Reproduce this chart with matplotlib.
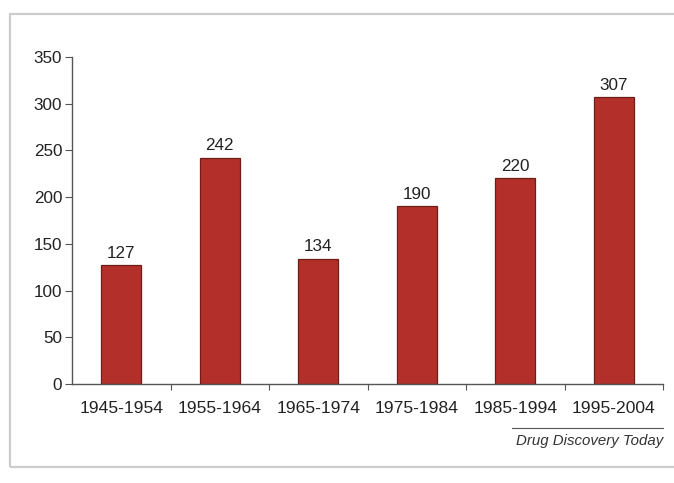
import matplotlib
matplotlib.use('Agg')
import matplotlib.pyplot as plt
from matplotlib.patches import Rectangle
from matplotlib.lines import Line2D

# data
periods = ['1945-1954', '1955-1964', '1965-1974', '1975-1984', '1985-1994', '1995-2004']
counts = [127, 242, 134, 190, 220, 307]
y_ticks = [0, 50, 100, 150, 200, 250, 300, 350]
source_note = 'Drug Discovery Today'

plt.rcParams['font.family'] = ['Liberation Sans', 'DejaVu Sans']

fig = plt.figure(figsize=(6.74, 4.83), dpi=100)
fig.patch.set_facecolor('white')

# light grey frame round the figure
fig.patches.append(Rectangle((10 / 674, 1 - 467 / 483), 1.0, (467 - 14) / 483,
                             transform=fig.transFigure, fill=False,
                             edgecolor='#cccccc', linewidth=1.6))

ax = fig.add_axes([72 / 674, 1 - 384 / 483, (663 - 72) / 674, (384 - 57) / 483])

x = list(range(len(periods)))
bars = ax.bar(x, counts, width=0.405, color='#b3302a', edgecolor='#6e1c16', linewidth=0.9)

for xi, v in zip(x, counts):
    ax.text(xi, v + 5, str(v), ha='center', va='bottom', fontsize=12.3, color='#222222')

ax.set_xlim(-0.5, 5.5)
ax.set_ylim(0, 350)

ax.set_yticks(y_ticks)
ax.set_yticklabels([str(t) for t in y_ticks], fontsize=12.3, color='#222222')

# major ticks between the bars, labels on the bar centres
ax.set_xticks([i + 0.5 for i in range(len(periods))])
ax.set_xticklabels([])
ax.set_xticks(x, minor=True)
ax.set_xticklabels(periods, minor=True, fontsize=12.6, color='#222222')
ax.tick_params(axis='x', which='minor', length=0, pad=12)
ax.tick_params(axis='x', which='major', length=4, direction='out', color='#555555')
ax.tick_params(axis='y', length=5, direction='out', color='#555555', pad=2)

for side in ['top', 'right']:
    ax.spines[side].set_visible(False)
for side in ['left', 'bottom']:
    ax.spines[side].set_color('#555555')
    ax.spines[side].set_linewidth(1.0)

# source note with rule above it
fig.lines.append(Line2D([512 / 674, 663 / 674], [1 - 428 / 483, 1 - 428 / 483],
                        transform=fig.transFigure, color='#555555', linewidth=0.8))
fig.text(663 / 674, 1 - 441 / 483, source_note, ha='right', va='center',
         fontsize=10.8, style='italic', color='#333333')

fig.savefig('out.png', dpi=100)
